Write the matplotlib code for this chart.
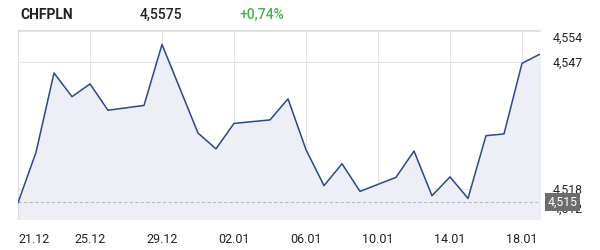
import matplotlib.pyplot as plt
import numpy as np
import pandas as pd

plt.rcParams['font.family'] = ['Roboto', 'DejaVu Sans']

# === Data ===
symbol = "CHFPLN"
last_price = "4,5575"
change_pct = "+0,74%"

dates = pd.to_datetime([
    "2025-12-21", "2025-12-22", "2025-12-23", "2025-12-24", "2025-12-25", "2025-12-26",
    "2025-12-28", "2025-12-29", "2025-12-31", "2026-01-01", "2026-01-02",
    "2026-01-04", "2026-01-05", "2026-01-06", "2026-01-07", "2026-01-08", "2026-01-09",
    "2026-01-11", "2026-01-12", "2026-01-13", "2026-01-14", "2026-01-15", "2026-01-16",
    "2026-01-17", "2026-01-18", "2026-01-19",
])
prices = [
    4.5149, 4.5264, 4.5445, 4.5391, 4.5420, 4.5360,
    4.5371, 4.5510, 4.5308, 4.5272, 4.5330,
    4.5338, 4.5386, 4.5270, 4.5188, 4.5238, 4.5175,
    4.5207, 4.5267, 4.5165, 4.5208, 4.5159,
    4.5302, 4.5306, 4.5467, 4.5488,
]
ref_price = 4.515
ref_label = "4,515"

y_ticks = [4.512, 4.518, 4.547, 4.554]
y_tick_labels = ["4,512", "4,518", "4,547", "4,554"]
x_ticks = pd.to_datetime(["2025-12-21", "2025-12-25", "2025-12-29", "2026-01-02",
                          "2026-01-06", "2026-01-10", "2026-01-14", "2026-01-18"])
x_tick_labels = ["21.12", "25.12", "29.12", "02.01", "06.01", "10.01", "14.01", "18.01"]

# === Style ===
LINE = "#2c4a86"
FILL = "#eeeef6"
GRID = "#e4e4e8"
TEXT = "#222222"

fig = plt.figure(figsize=(6, 2.5), dpi=100)
ax = fig.add_axes([0.03, 0.124, 0.87, 0.756])

y_lo, y_hi = 4.5112, 4.5543
ax.fill_between(dates, prices, y_lo, color=FILL, zorder=1)
ax.plot(dates, prices, color=LINE, lw=1.1, zorder=3)
ax.axhline(ref_price, color="#b8b8c0", lw=0.8, ls=(0, (3, 2)), zorder=2)

ax.set_xlim(dates[0], dates[-1])
ax.set_ylim(y_lo, y_hi)

ax.set_xticks(x_ticks)
ax.set_xticklabels(x_tick_labels, fontsize=9, color=TEXT)
ax.set_yticks(y_ticks)
ax.set_yticklabels(y_tick_labels, fontsize=8.8, color=TEXT)
ax.yaxis.tick_right()
ax.tick_params(axis="both", length=0)
ax.tick_params(axis="y", pad=9)
ax.tick_params(axis="x", pad=10)
labels = ax.get_yticklabels()
labels[0].set_va("bottom")
labels[-1].set_va("top")
xl = ax.get_xticklabels()
xl[0].set_ha("left")

ax.grid(True, color=GRID, lw=0.8, zorder=0)
ax.set_axisbelow(True)
for side in ["right", "bottom"]:
    ax.spines[side].set_visible(False)
for side in ["left", "top"]:
    ax.spines[side].set_color("#dcdce0")
    ax.spines[side].set_linewidth(0.8)

# reference price badge on the right
ax.text(1.015, ref_price, ref_label, transform=ax.get_yaxis_transform(),
        fontsize=8.8, color="white", va="center", ha="left", zorder=5,
        bbox=dict(boxstyle="square,pad=0.2", fc="#6d6d6d", ec="none"))

# header
fig.text(20 / 600, 1 - 15 / 250, symbol, fontsize=10, fontweight="bold", color=TEXT, va="center")
fig.text(140 / 600, 1 - 15 / 250, last_price, fontsize=10, fontweight="medium", color=TEXT, va="center")
fig.text(240 / 600, 1 - 15 / 250, change_pct, fontsize=10, fontweight="medium", color="#4caf50", va="center")

fig.savefig("out.png", dpi=100)
